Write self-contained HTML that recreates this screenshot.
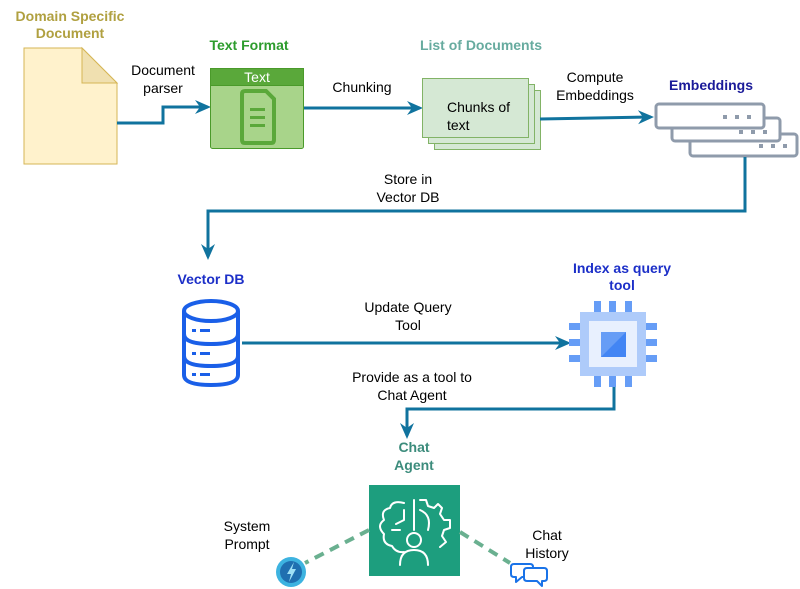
<!DOCTYPE html>
<html><head><meta charset="utf-8"><style>
html,body{margin:0;padding:0;background:#fff;}
svg{display:block;font-family:"Liberation Sans",Arial,sans-serif;}
</style></head><body>
<svg width="800" height="589" viewBox="0 0 800 589" xmlns="http://www.w3.org/2000/svg">
<defs>
<marker id="ar" markerWidth="18" markerHeight="16" refX="13" refY="8" orient="auto" markerUnits="userSpaceOnUse">
<path d="M0,1 L16,8 L0,15 L5,8 Z" fill="#10739e"/>
</marker>
</defs>
<g font-size="14" fill="#000">
<!-- Domain doc -->
<text x="70" y="21" text-anchor="middle" font-weight="bold" fill="#b0a040">Domain Specific</text>
<text x="70" y="38" text-anchor="middle" font-weight="bold" fill="#b0a040">Document</text>
<path d="M24,48 H82 L117,83 V164 H24 Z" fill="#fff2cc" stroke="#d6b656" stroke-width="1"/>
<path d="M82,48 V83 H117 Z" fill="#f0e0b0" stroke="#d6b656" stroke-width="1"/>
<path d="M117,123 H163 V107 H208" fill="none" stroke="#10739e" stroke-width="3" marker-end="url(#ar)"/>
<text x="163" y="75" text-anchor="middle">Document</text>
<text x="163" y="93" text-anchor="middle">parser</text>

<!-- Text format -->
<text x="249" y="50" text-anchor="middle" font-weight="bold" fill="#2d9c2d">Text Format</text>
<rect x="210.5" y="68.5" width="93" height="80" rx="2" fill="#a8d48a" stroke="#4a9a2a"/>
<rect x="210.5" y="68.5" width="93" height="17" fill="#5aa83a" stroke="#4a9a2a"/>
<text x="257" y="82" text-anchor="middle" fill="#fff" font-size="14">Text</text>
<path d="M245,91 H266 L274,99 V140 Q274,143 271,143 H245 Q242,143 242,140 V94 Q242,91 245,91 Z" fill="none" stroke="#5aa83a" stroke-width="4"/>
<rect x="250" y="108" width="15" height="3" fill="#5aa83a"/>
<rect x="250" y="116" width="15" height="3" fill="#5aa83a"/>
<rect x="250" y="124" width="15" height="3" fill="#5aa83a"/>
<path d="M304,108 H420" fill="none" stroke="#10739e" stroke-width="3" marker-end="url(#ar)"/>
<text x="362" y="92" text-anchor="middle">Chunking</text>

<!-- List of docs -->
<text x="481" y="50" text-anchor="middle" font-weight="bold" fill="#67ab9f">List of Documents</text>
<rect x="434.5" y="90.5" width="106" height="59" fill="#d5e8d4" stroke="#82b366"/>
<rect x="428.5" y="84.5" width="106" height="59" fill="#d5e8d4" stroke="#82b366"/>
<rect x="422.5" y="78.5" width="106" height="59" fill="#d5e8d4" stroke="#82b366"/>
<text x="447" y="112">Chunks  of</text>
<text x="447" y="130">text</text>
<path d="M540,119 L651,117" fill="none" stroke="#10739e" stroke-width="3" marker-end="url(#ar)"/>
<text x="595" y="82" text-anchor="middle">Compute</text>
<text x="595" y="100" text-anchor="middle">Embeddings</text>

<!-- Embeddings -->
<text x="711" y="90" text-anchor="middle" font-weight="bold" fill="#1a1a99">Embeddings</text>
<g fill="#fff" stroke="#8f9bab" stroke-width="3">
<rect x="690" y="134" width="107" height="22" rx="3"/>
<rect x="672" y="118" width="108" height="23" rx="3"/>
<rect x="656" y="104" width="108" height="24" rx="3"/>
</g>
<g fill="#8f9bab">
<rect x="723" y="115" width="4" height="4"/><rect x="735" y="115" width="4" height="4"/><rect x="747" y="115" width="4" height="4"/>
<rect x="739" y="130" width="4" height="4"/><rect x="751" y="130" width="4" height="4"/><rect x="763" y="130" width="4" height="4"/>
<rect x="759" y="144" width="4" height="4"/><rect x="771" y="144" width="4" height="4"/><rect x="783" y="144" width="4" height="4"/>
</g>
<path d="M745,157 V211 H208 V257" fill="none" stroke="#10739e" stroke-width="3" marker-end="url(#ar)"/>
<text x="408" y="184" text-anchor="middle">Store in</text>
<text x="408" y="202" text-anchor="middle">Vector DB</text>

<!-- Vector DB -->
<text x="211" y="284" text-anchor="middle" font-weight="bold" fill="#1c2fc8">Vector DB</text>
<g fill="none" stroke="#1a5fe8" stroke-width="4">
<ellipse cx="211" cy="311" rx="27" ry="10"/>
<path d="M184,311 V375 Q184,385 211,385 Q238,385 238,375 V311"/>
<path d="M184,334 Q184,344 211,344 Q238,344 238,334"/>
<path d="M184,356 Q184,366 211,366 Q238,366 238,356"/>
</g>
<g fill="#1a5fe8">
<rect x="192" y="329" width="4" height="3"/><rect x="200" y="329" width="10" height="3"/>
<rect x="192" y="352" width="4" height="3"/><rect x="200" y="352" width="10" height="3"/>
<rect x="192" y="373" width="4" height="3"/><rect x="200" y="373" width="10" height="3"/>
</g>
<path d="M242,343 H568" fill="none" stroke="#10739e" stroke-width="3" marker-end="url(#ar)"/>
<text x="408" y="312" text-anchor="middle">Update Query</text>
<text x="408" y="330" text-anchor="middle">Tool</text>

<!-- Chip -->
<text x="622" y="273" text-anchor="middle" font-weight="bold" fill="#1c2fc8">Index as query</text>
<text x="622" y="290" text-anchor="middle" font-weight="bold" fill="#1c2fc8">tool</text>
<g fill="#669df6">
<rect x="594" y="301" width="7" height="12"/><rect x="609" y="301" width="7" height="12"/><rect x="625" y="301" width="7" height="12"/>
<rect x="594" y="375" width="7" height="12"/><rect x="609" y="375" width="7" height="12"/><rect x="625" y="375" width="7" height="12"/>
<rect x="569" y="323" width="12" height="7"/><rect x="569" y="339" width="12" height="7"/><rect x="569" y="355" width="12" height="7"/>
<rect x="645" y="323" width="12" height="7"/><rect x="645" y="339" width="12" height="7"/><rect x="645" y="355" width="12" height="7"/>
</g>
<rect x="580" y="312" width="66" height="64" fill="#aecbfa"/>
<rect x="589" y="321" width="48" height="46" fill="#e8f0fe"/>
<rect x="601" y="332" width="25" height="25" fill="#669df6"/>
<path d="M626,332 V357 H601 Z" fill="#4285f4"/>
<path d="M614,387 V409 H407 V436" fill="none" stroke="#10739e" stroke-width="3" marker-end="url(#ar)"/>
<text x="412" y="382" text-anchor="middle">Provide as a tool to</text>
<text x="412" y="400" text-anchor="middle">Chat Agent</text>

<!-- Chat agent -->
<text x="414" y="452" text-anchor="middle" font-weight="bold" fill="#3c8c7c">Chat</text>
<text x="414" y="470" text-anchor="middle" font-weight="bold" fill="#3c8c7c">Agent</text>
<rect x="369" y="485" width="91" height="91" fill="#1d9e7e"/>
<g fill="none" stroke="#fff" stroke-width="2" stroke-linecap="round" stroke-linejoin="round">
<path d="M414,500 V530 M404,503 Q392,500 390,508 Q380,510 384,520 Q376,526 384,534 Q382,544 392,546 Q396,553 404,552"/>
<path d="M404,510 V520 L396,524 M392,530 H400"/>
<path d="M420,500 L426,500 L428,506 L434,508 L438,504 L442,508 L440,514 L444,520 L450,520 L450,528 L444,530 L442,536 L446,542 L440,547"/>
<path d="M420,510 Q432,515 428,530"/>
<circle cx="414" cy="540" r="7"/>
<path d="M400,565 Q400,550 414,550 Q428,550 428,565"/>
</g>
<g stroke="#6ab090" stroke-width="4" stroke-dasharray="10,7" fill="none">
<path d="M369,530 L305,563"/>
<path d="M460,532 L510,563"/>
</g>
<text x="247" y="531" text-anchor="middle">System</text>
<text x="247" y="549" text-anchor="middle">Prompt</text>
<circle cx="291" cy="572" r="15" fill="#3db3e0"/>
<circle cx="291" cy="572" r="11" fill="#1f6fb0"/>
<path d="M294,562 L287,574 L291,574 L289,582 L296,569 L292,569 Z" fill="#9fe0f5"/>
<text x="547" y="540" text-anchor="middle">Chat</text>
<text x="547" y="558" text-anchor="middle">History</text>
<g fill="#fff" stroke="#1a73e8" stroke-width="2" stroke-linejoin="round">
<path d="M514,564 H530 Q533,564 533,567 V574 Q533,577 530,577 H522 L516,582 V577 H514 Q511,577 511,574 V567 Q511,564 514,564 Z"/>
<path d="M527,568 H544 Q547,568 547,571 V578 Q547,581 544,581 H542 V586 L537,581 H527 Q524,581 524,578 V571 Q524,568 527,568 Z"/>
</g>
</g>
</svg>
</body></html>
